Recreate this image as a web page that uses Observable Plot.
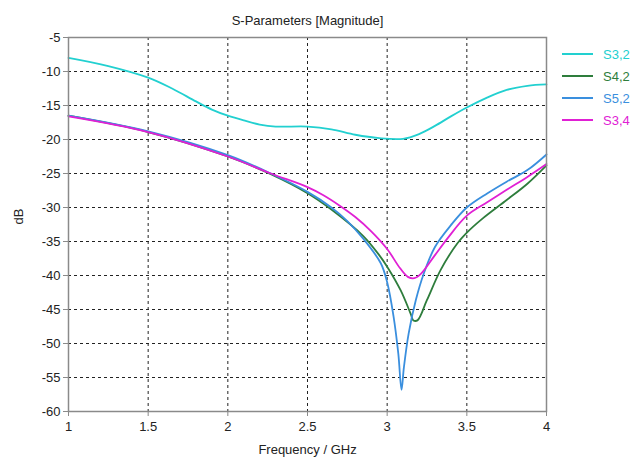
<!DOCTYPE html>
<html><head><meta charset="utf-8">
<script src="https://cdn.jsdelivr.net/npm/d3@7"></script>
<script src="https://cdn.jsdelivr.net/npm/@observablehq/plot@0.6"></script>
<style>
body{margin:0;background:#fff;}
#wrap{position:relative;width:634px;height:462px;font-family:"Liberation Sans",Arial,sans-serif;color:#222;}
#legend{position:absolute;left:562px;top:43px;}
.item{display:flex;align-items:center;height:22px;font-size:13px;}
.item span.sw{display:inline-block;width:31px;height:2px;margin-right:10px;}
</style></head><body><div id="wrap"><div id="legend"></div></div>
<script>
const seriesNames = ["S3,2", "S4,2", "S5,2", "S3,4"];
const seriesColors = ["#22d0d0", "#2e7d3c", "#3a8fde", "#e020d4"];
const xTicks = [1, 1.5, 2, 2.5, 3, 3.5, 4];
const yTicks = [-5, -10, -15, -20, -25, -30, -35, -40, -45, -50, -55, -60];

const freqS32 = [1.0, 1.25, 1.5, 1.65, 1.8, 1.9, 2.0, 2.1, 2.2, 2.3, 2.5, 2.65, 2.8, 2.95, 3.1, 3.2, 3.3, 3.4, 3.5, 3.63, 3.75, 3.88, 4.0];
const magS32 = [-8.0, -9.2, -10.9, -12.5, -14.4, -15.6, -16.5, -17.2, -17.8, -18.1, -18.1, -18.5, -19.3, -19.8, -19.9, -19.2, -18.0, -16.6, -15.3, -13.8, -12.7, -12.1, -11.9];

const freqS42 = [1.0, 1.5, 2.0, 2.27, 2.5, 2.65, 2.85, 2.95, 3.0, 3.085, 3.147, 3.165, 3.19, 3.25, 3.335, 3.44, 3.5, 3.6, 3.75, 3.88, 4.0];
const magS42 = [-16.5, -18.9, -22.5, -25.1, -27.9, -30.3, -34.2, -37.0, -38.7, -42.2, -45.6, -46.6, -46.6, -43.6, -39.2, -35.3, -33.7, -31.6, -28.9, -26.5, -23.8];

const freqS52 = [1.0, 1.5, 2.0, 2.27, 2.5, 2.65, 2.75, 2.85, 2.96, 3.0, 3.04, 3.07, 3.09, 3.105, 3.135, 3.18, 3.23, 3.3, 3.4, 3.5, 3.63, 3.75, 3.88, 4.0];
const magS52 = [-16.5, -18.8, -22.3, -25.0, -27.7, -30.0, -32.0, -34.6, -38.2, -41.0, -46.0, -51.5, -56.8, -53.5, -48.5, -43.6, -39.7, -35.8, -32.6, -30.0, -27.9, -26.2, -24.5, -22.2];

const freqS34 = [1.0, 1.5, 2.0, 2.27, 2.5, 2.6, 2.7, 2.8, 2.9, 3.0, 3.08, 3.13, 3.17, 3.21, 3.3, 3.38, 3.5, 3.63, 3.75, 3.88, 4.0];
const magS34 = [-16.6, -18.9, -22.5, -25.0, -27.0, -28.2, -29.7, -31.4, -33.5, -36.1, -38.9, -40.2, -40.4, -39.8, -37.0, -34.5, -31.2, -29.2, -27.4, -25.5, -23.6];

const freqs = [freqS32, freqS42, freqS52, freqS34];
const mags = [magS32, magS42, magS52, magS34];
const rows = [];
seriesNames.forEach((s, i) => freqs[i].forEach((f, j) => rows.push({series: s, f, db: mags[i][j]})));

const gridStyle = {stroke: "#222", strokeOpacity: 1, strokeDasharray: "3,3", strokeWidth: 1};
const chart = Plot.plot({
  width: 634, height: 462,
  marginLeft: 68, marginRight: 88, marginTop: 37, marginBottom: 51,
  style: {fontFamily: "'Liberation Sans', Arial, sans-serif", fontSize: "13px", color: "#222", background: "#fff"},
  x: {domain: [1, 4]},
  y: {domain: [-60, -5]},
  color: {domain: seriesNames, range: seriesColors},
  marks: [
    Plot.gridX(xTicks.slice(1, -1), gridStyle),
    Plot.gridY(yTicks.slice(1, -1), gridStyle),
    Plot.line(rows, {x: "f", y: "db", z: "series", stroke: "series", strokeWidth: 1.8, curve: "catmull-rom"}),
    Plot.frame({stroke: "#8a8a8a", strokeWidth: 1.5}),
    Plot.axisX(xTicks, {tickSize: 5, tickPadding: 5, stroke: "#8a8a8a", label: null, tickFormat: d => String(d), fontSize: 13}),
    Plot.axisY(yTicks, {tickSize: 5, tickPadding: 3, stroke: "#8a8a8a", label: null, tickFormat: d => String(d), fontSize: 13}),
    Plot.text(["S-Parameters [Magnitude]"], {frameAnchor: "top", dy: -22, fontSize: 13}),
    Plot.text(["Frequency / GHz"], {frameAnchor: "bottom", dy: 42, fontSize: 13}),
    Plot.text(["dB"], {frameAnchor: "left", dx: -50, rotate: -90, fontSize: 13})
  ]
});
document.getElementById("wrap").prepend(chart);
const leg = document.getElementById("legend");
seriesNames.forEach((s, i) => {
  const d = document.createElement("div");
  d.className = "item";
  d.innerHTML = `<span class="sw" style="background:${seriesColors[i]}"></span><span style="color:${seriesColors[i]}">${s}</span>`;
  leg.appendChild(d);
});
</script></body></html>
